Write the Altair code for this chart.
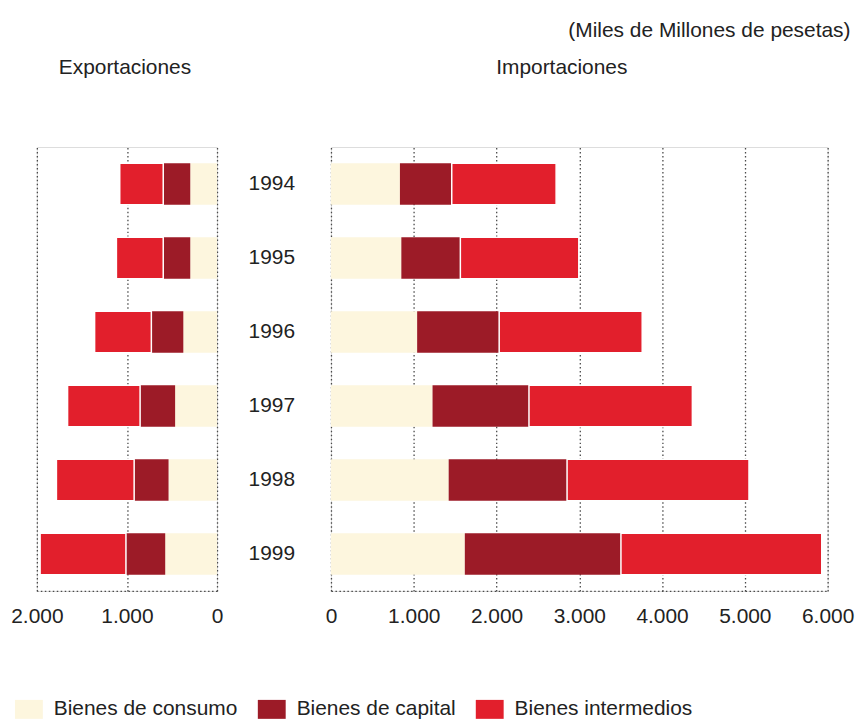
import altair as alt
import pandas as pd

years = ["1994", "1995", "1996", "1997", "1998", "1999"]
categories = ["Bienes de consumo", "Bienes de capital", "Bienes intermedios"]
colors = ["#FDF6DE", "#9C1B27", "#E21F2C"]

exp_consumo = [297, 297, 374, 465, 538, 575]
exp_capital = [300, 300, 355, 389, 382, 436]
exp_intermedios = [483, 520, 630, 805, 863, 953]

imp_consumo = [833, 850, 1041, 1227, 1422, 1617]
imp_capital = [626, 713, 991, 1165, 1430, 1886]
imp_intermedios = [1261, 1431, 1728, 1974, 2198, 2426]

exp_ticks = [0, 1000, 2000]
imp_ticks = [0, 1000, 2000, 3000, 4000, 5000, 6000]

panel_titles = ["Exportaciones", "Importaciones"]
unit_note = ["(Miles de Millones de pesetas)"]

FONT = "Liberation Sans"
TXT = "#222222"
GRID = "#4a4a4a"


def long_df(series):
    rows = []
    for ci, vals in enumerate(series):
        for y, v in zip(years, vals):
            rows.append({"year": y, "cat": categories[ci], "ord": ci, "value": v})
    return pd.DataFrame(rows)


df_exp = long_df([exp_consumo, exp_capital, exp_intermedios])
df_imp = long_df([imp_consumo, imp_capital, imp_intermedios])

label_expr = "replace(format(datum.value, ','), ',', '.')"

y_scale = alt.Scale(paddingInner=0.44, paddingOuter=0.22)

color_enc_legend = alt.Color(
    "cat:N",
    scale=alt.Scale(domain=categories, range=colors),
    legend=alt.Legend(
        title=None,
        orient="none",
        legendX=-22,
        legendY=551,
        direction="horizontal",
        columns=3,
        symbolType="M-1,-0.68L1,-0.68L1,0.68L-1,0.68Z",
        symbolSize=784,
        symbolStrokeWidth=0,
        labelFontSize=21,
        labelFont=FONT,
        labelColor=TXT,
        labelOffset=11,
        columnPadding=20,
        labelLimit=400,
    ),
)

stroke_w = alt.condition("datum.cat == 'Bienes intermedios'", alt.value(1.5), alt.value(0))


def x_axis(vals):
    return alt.Axis(
        values=vals,
        title=None,
        labelExpr=label_expr,
        grid=True,
        gridDash=[1.5, 2.5],
        gridColor=GRID,
        gridWidth=1.3,
        domain=True,
        domainDash=[1.5, 2.5],
        domainColor=GRID,
        domainWidth=1.3,
        ticks=False,
        labelFlush=False,
        labelOverlap=False,
        labelFontSize=21,
        labelFont=FONT,
        labelColor=TXT,
        labelPadding=15,
    )


bars_exp = alt.Chart(df_exp).mark_bar(stroke="white").encode(
    x=alt.X("value:Q", stack="zero",
            scale=alt.Scale(domain=[0, 2000], reverse=True, nice=False, zero=True),
            axis=x_axis(exp_ticks)),
    y=alt.Y("year:N", sort=years, scale=y_scale, axis=None),
    color=color_enc_legend,
    order=alt.Order("ord:Q"),
    strokeWidth=stroke_w,
)

txt_exp = alt.Chart(pd.DataFrame({"t": [panel_titles[0]]})).mark_text(
    align="left", baseline="alphabetic", fontSize=21, font=FONT, color=TXT
).encode(text="t:N", x=alt.value(22), y=alt.value(-73))

left = alt.layer(bars_exp, txt_exp).properties(width=181, height=446)

bars_imp = alt.Chart(df_imp).mark_bar(stroke="white").encode(
    x=alt.X("value:Q", stack="zero",
            scale=alt.Scale(domain=[0, 6000], nice=False, zero=True),
            axis=x_axis(imp_ticks)),
    y=alt.Y("year:N", sort=years, scale=y_scale,
            axis=alt.Axis(title=None, domain=False, ticks=False, grid=False,
                          labelAlign="center", labelBaseline="middle",
                          labelPadding=60, labelFontSize=21, labelFont=FONT,
                          labelColor=TXT)),
    color=alt.Color("cat:N", scale=alt.Scale(domain=categories, range=colors), legend=None),
    order=alt.Order("ord:Q"),
    strokeWidth=stroke_w,
)

txt_imp = alt.Chart(pd.DataFrame({"t": [panel_titles[1]]})).mark_text(
    align="left", baseline="alphabetic", fontSize=21, font=FONT, color=TXT
).encode(text="t:N", x=alt.value(166), y=alt.value(-73))

txt_unit = alt.Chart(pd.DataFrame({"t": unit_note})).mark_text(
    align="right", baseline="alphabetic", fontSize=21, font=FONT, color=TXT
).encode(text="t:N", x=alt.value(522), y=alt.value(-111))

right = alt.layer(bars_imp, txt_imp, txt_unit).properties(width=499, height=446)

chart = alt.hconcat(left, right, spacing=114.5, bounds="flush").properties(
    padding={"left": 2, "top": 9, "right": 0, "bottom": 0}
).configure_view(stroke=None).configure(font=FONT)

chart.save("out.html", embed_options={"renderer": "svg", "actions": False})
